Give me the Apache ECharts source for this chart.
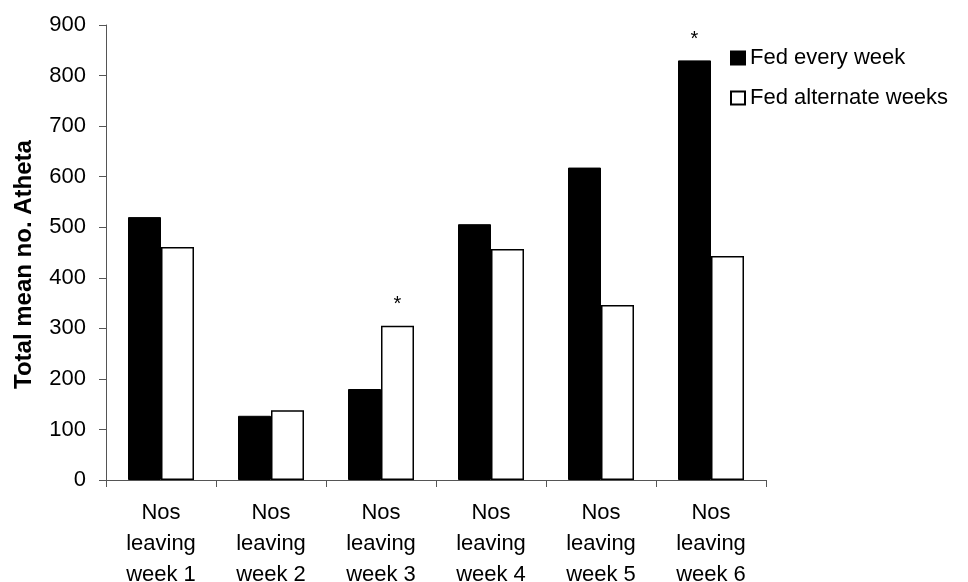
<!DOCTYPE html>
<html>
<head>
<meta charset="utf-8">
<script src="https://cdn.jsdelivr.net/npm/echarts@6/dist/echarts.min.js"></script>
<style>
  html, body { margin: 0; padding: 0; background: #fff; }
  #chart { width: 968px; height: 582px; }
</style>
</head>
<body>
<div id="chart"></div>
<script>
var categories = ["Nos\nleaving\nweek 1", "Nos\nleaving\nweek 2", "Nos\nleaving\nweek 3",
  "Nos\nleaving\nweek 4", "Nos\nleaving\nweek 5", "Nos\nleaving\nweek 6"];
var fedEveryWeek = [520, 127, 180, 506, 618, 830];
var fedAlternate = [461, 138, 305, 457, 346, 443];
// significance marks (*) shown above a bar
var sigEvery = ["", "", "", "", "", "*"];
var sigAlternate = ["", "", "*", "", "", ""];

var font = "Liberation Sans, Arial, sans-serif";
var myChart = echarts.init(document.getElementById("chart"));

function starLabel(marks) {
  return {
    show: true,
    position: "top",
    distance: 11,
    color: "#000",
    fontFamily: font,
    fontSize: 20,
    formatter: function (p) {
      return marks[p.dataIndex];
    },
  };
}

myChart.setOption({
  animation: false,
  textStyle: { fontFamily: font },
  grid: {
    left: 106,
    right: 202,
    top: 25,
    bottom: 102,
    containLabel: false,
    outerBoundsMode: "none",
  },
  legend: {
    orient: "vertical",
    left: 725,
    top: 42,
    itemWidth: 14,
    itemHeight: 13,
    itemGap: 18,
    icon: "rect",
    textStyle: { fontSize: 22, color: "#000", fontFamily: font },
    data: ["Fed every week", "Fed alternate weeks"],
  },
  xAxis: {
    type: "category",
    data: categories,
    axisLine: { lineStyle: { color: "#555", width: 1 } },
    axisTick: { show: true, length: 7, lineStyle: { color: "#555" } },
    axisLabel: {
      color: "#000",
      fontSize: 22,
      lineHeight: 31,
      margin: 17,
      interval: 0,
    },
  },
  yAxis: {
    type: "value",
    min: 0,
    max: 900,
    interval: 100,
    name: "Total mean no. Atheta",
    nameLocation: "middle",
    nameGap: 70,
    nameTextStyle: {
      fontSize: 24,
      fontWeight: "bold",
      color: "#000",
      padding: [0, 24, 0, 0],
    },
    axisLine: { show: true, lineStyle: { color: "#555", width: 1 } },
    axisTick: { show: true, length: 7, lineStyle: { color: "#555" } },
    splitLine: { show: false },
    axisLabel: { color: "#000", fontSize: 22, margin: 20 },
  },
  series: [
    {
      name: "Fed every week",
      type: "bar",
      data: fedEveryWeek,
      barWidth: 33,
      barGap: "0%",
      itemStyle: { color: "#000", borderColor: "#000", borderWidth: 1 },
      label: starLabel(sigEvery),
    },
    {
      name: "Fed alternate weeks",
      type: "bar",
      data: fedAlternate,
      barWidth: 33,
      itemStyle: { color: "#fff", borderColor: "#000", borderWidth: 1.5 },
      label: starLabel(sigAlternate),
    },
  ],
});
</script>
</body>
</html>
